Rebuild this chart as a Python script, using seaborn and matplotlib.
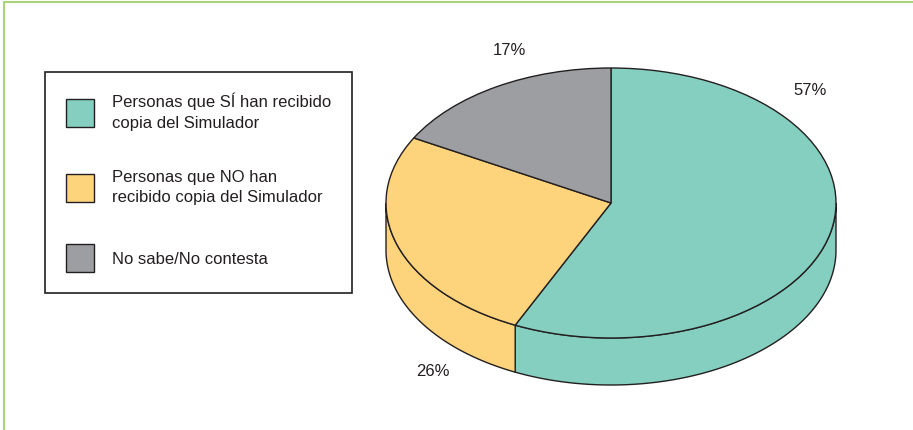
import matplotlib.pyplot as plt
from matplotlib.lines import Line2D
from matplotlib.patches import Polygon
import numpy as np
import seaborn as sns

# data
categories = ["Personas que SÍ han recibido\ncopia del Simulador",
              "Personas que NO han\nrecibido copia del Simulador",
              "No sabe/No contesta"]
shares = [57, 26, 17]
pct_labels = ["57%", "26%", "17%"]

colors = ["#84cfbf", "#fdd37c", "#9d9ea2"]
# label positions in pie units (x radius = 1, y radius = 1)
label_xy = [(0.884, 0.83), (-0.79, -1.25), (-0.453, 1.13)]

sns.set_theme(style="white")
plt.rcParams['font.family'] = ['Liberation Sans', 'DejaVu Sans']

W, H = 913, 430
fig = plt.figure(figsize=(W / 100, H / 100), dpi=100)
fig.patch.set_facecolor("white")

edge = "#231f20"

# pie geometry (pixels)
cx, cy, rx, ry, depth_px = 611, 203, 225, 135, 47
depth = depth_px / ry
m = 0.06
ax = fig.add_axes([(cx - rx * (1 + m)) / W,
                   (H - cy - ry * (1 + depth + m)) / H,
                   2 * rx * (1 + m) / W,
                   ry * (2 + depth + 2 * m) / H])

# top of the pie
wedges, _ = ax.pie(shares, colors=colors, startangle=90, counterclock=False,
                   wedgeprops=dict(edgecolor=edge, linewidth=1.0, zorder=3))

# side walls for the front half of each wedge
for w in wedges:
  t1, t2 = w.theta1, w.theta2
  for k in (-360, 0, 360):
    a, b = max(t1 + k, 180), min(t2 + k, 360)
    if b > a:
      t = np.radians(np.linspace(a, b, 120))
      x, y = np.cos(t), np.sin(t)
      pts = np.column_stack([np.r_[x, x[::-1]], np.r_[y, y[::-1] - depth]])
      ax.add_patch(Polygon(pts, closed=True, facecolor=w.get_facecolor(),
                           edgecolor=edge, lw=1.0, zorder=2))

ax.set_xlim(-1 - m, 1 + m)
ax.set_ylim(-1 - depth - m, 1 + m)
ax.set_aspect('auto')
ax.axis('off')

for (lx, ly), s in zip(label_xy, pct_labels):
  ax.text(lx, ly, s, ha='center', va='center', fontsize=12, color=edge)

# legend
leg = fig.legend(wedges, categories, loc='upper left',
                 bbox_to_anchor=(45 / W, 1 - 72 / H), bbox_transform=fig.transFigure,
                 borderaxespad=0, frameon=True, fancybox=False, edgecolor=edge,
                 framealpha=1, fontsize=12, handlelength=1.68, handleheight=2.2,
                 handletextpad=1.08, labelspacing=2.35, borderpad=1.25)
leg.get_frame().set_linewidth(1.2)
for txt in leg.get_texts():
  txt.set_color(edge)
  txt.set_linespacing(1.45)

# green frame lines
green = "#a9d47d"
fig.add_artist(Line2D([4 / W, 1], [1 - 2 / H, 1 - 2 / H], color=green, lw=1.5,
                      transform=fig.transFigure))
fig.add_artist(Line2D([4 / W, 4 / W], [0, 1 - 2 / H], color=green, lw=1.5,
                      transform=fig.transFigure))

fig.savefig('out.png', dpi=100)
